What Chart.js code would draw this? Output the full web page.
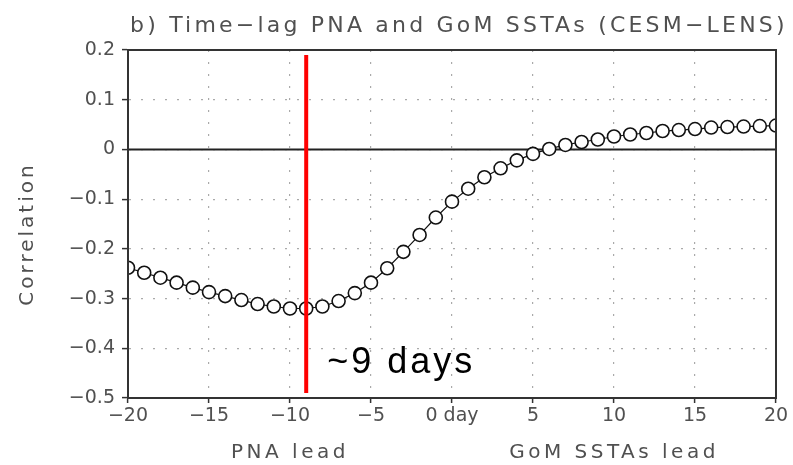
<!DOCTYPE html>
<html>
<head>
<meta charset="utf-8">
<script src="https://cdn.jsdelivr.net/npm/chart.js@4.4.1/dist/chart.umd.min.js"></script>
<style>
  html, body { margin: 0; padding: 0; background: #fff; }
  #wrap { width: 793px; height: 465px; }
</style>
</head>
<body>
<div id="wrap"><canvas id="c" width="793" height="465"></canvas></div>
<script>
// ── data ──────────────────────────────────────────────────────
const lags = [-20, -19, -18, -17, -16, -15, -14, -13, -12, -11, -10, -9, -8, -7, -6, -5, -4, -3, -2, -1,
              0, 1, 2, 3, 4, 5, 6, 7, 8, 9, 10, 11, 12, 13, 14, 15, 16, 17, 18, 19, 20];
const corr = [-0.238, -0.248, -0.258, -0.268, -0.278, -0.287, -0.295, -0.303, -0.311, -0.316,
              -0.320, -0.320, -0.316, -0.305, -0.289, -0.268, -0.239, -0.206, -0.172, -0.137,
              -0.105, -0.079, -0.056, -0.038, -0.022, -0.009, 0.001, 0.009, 0.015, 0.020,
              0.026, 0.030, 0.033, 0.037, 0.039, 0.041, 0.044, 0.045, 0.046, 0.047, 0.048];
const xTicks = [-20, -15, -10, -5, 0, 5, 10, 15, 20];
const yTicks = [-0.5, -0.4, -0.3, -0.2, -0.1, 0, 0.1, 0.2];
const markLag = -9;            // red marker line
const markRange = [-0.49, 0.19];
const titleText = 'b) Time\u2212lag PNA and GoM SSTAs (CESM\u2212LENS)';
const yTitle = 'Correlation';
const leadLabels = [{ at: -10, text: 'PNA lead' }, { at: 10, text: 'GoM SSTAs lead' }];
const markText = '~9 days';

const GREY = '#505050';
const tickFont = { family: 'DejaVu Sans', size: 19 };

function fmtY(v) {
  if (Math.abs(v) < 1e-9) return '0';
  const s = Math.abs(v).toFixed(1);
  return v < 0 ? '\u2212' + s : s;
}
function fmtX(v) {
  if (v === 0) return '0 day';
  return v < 0 ? '\u2212' + Math.abs(v) : String(v);
}

// extra text + frame
const decor = {
  id: 'decor',
  afterDraw(chart) {
    const { ctx, chartArea: a, scales: { x, y } } = chart;
    ctx.save();
    // frame
    ctx.strokeStyle = '#333';
    ctx.lineWidth = 2;
    ctx.strokeRect(a.left, a.top, a.right - a.left, a.bottom - a.top);

    // title
    ctx.fillStyle = GREY;
    ctx.font = '22px "DejaVu Sans"';
    ctx.letterSpacing = '3.2px';
    ctx.textBaseline = 'alphabetic';
    ctx.textAlign = 'left';
    ctx.fillText(titleText, a.left + 2, a.top - 18);

    // lead labels under the x axis
    ctx.font = '20px "DejaVu Sans"';
    ctx.letterSpacing = '3.5px';
    ctx.textAlign = 'center';
    ctx.textBaseline = 'middle';
    leadLabels.forEach(l => ctx.fillText(l.text, x.getPixelForValue(l.at), a.bottom + 55));

    // y title
    ctx.letterSpacing = '3px';
    ctx.save();
    ctx.translate(28, (a.top + a.bottom) / 2 + 10);
    ctx.rotate(-Math.PI / 2);
    ctx.fillText(yTitle, 0, 0);
    ctx.restore();

    // annotation
    ctx.letterSpacing = '3px';
    ctx.fillStyle = '#000';
    ctx.font = '36px "Liberation Sans"';
    ctx.textAlign = 'left';
    ctx.textBaseline = 'alphabetic';
    ctx.fillText(markText, x.getPixelForValue(markLag) + 21, y.getPixelForValue(-0.45));
    ctx.restore();
  }
};

new Chart(document.getElementById('c'), {
  type: 'scatter',
  data: {
    datasets: [
      {
        label: 'mark',
        data: markRange.map(v => ({ x: markLag, y: v })),
        showLine: true,
        borderColor: '#ff0000',
        borderWidth: 4,
        pointRadius: 0
      },
      {
        label: 'corr',
        data: lags.map((l, i) => ({ x: l, y: corr[i] })),
        showLine: true,
        borderColor: '#111',
        borderWidth: 1.2,
        pointRadius: 6.5,
        pointBorderWidth: 1.6,
        pointBorderColor: '#111',
        pointBackgroundColor: '#fff',
        clip: 0
      },
      {
        label: 'zero',
        data: [{ x: lags[0], y: 0 }, { x: lags[lags.length - 1], y: 0 }],
        showLine: true,
        borderColor: '#222',
        borderWidth: 2,
        pointRadius: 0
      }
    ]
  },
  options: {
    responsive: false,
    animation: false,
    layout: { padding: { top: 50, right: 17, left: 0, bottom: 0 } },
    plugins: { legend: { display: false }, tooltip: { enabled: false }, title: { display: false } },
    scales: {
      x: {
        type: 'linear',
        min: -20, max: 20,
        afterBuildTicks: s => { s.ticks = xTicks.map(v => ({ value: v })); },
        afterFit: s => { s.height = 67; },
        ticks: { color: GREY, font: tickFont, padding: 2, maxRotation: 0, callback: v => fmtX(v) },
        grid: { color: '#aaa', lineWidth: 1.2, tickColor: '#333', tickLength: 5, tickWidth: 1.5 },
        border: { color: '#333', width: 2, dash: [2, 10] }
      },
      y: {
        min: -0.5, max: 0.2,
        afterBuildTicks: s => { s.ticks = yTicks.map(v => ({ value: v })); },
        afterFit: s => { s.width = 128; },
        ticks: { color: GREY, font: tickFont, padding: 7, callback: v => fmtY(v) },
        grid: { color: '#aaa', lineWidth: 1.2, tickColor: '#333', tickLength: 6, tickWidth: 1.5 },
        border: { color: '#333', width: 2, dash: [2, 10] }
      }
    }
  },
  plugins: [decor]
});
</script>
</body>
</html>
